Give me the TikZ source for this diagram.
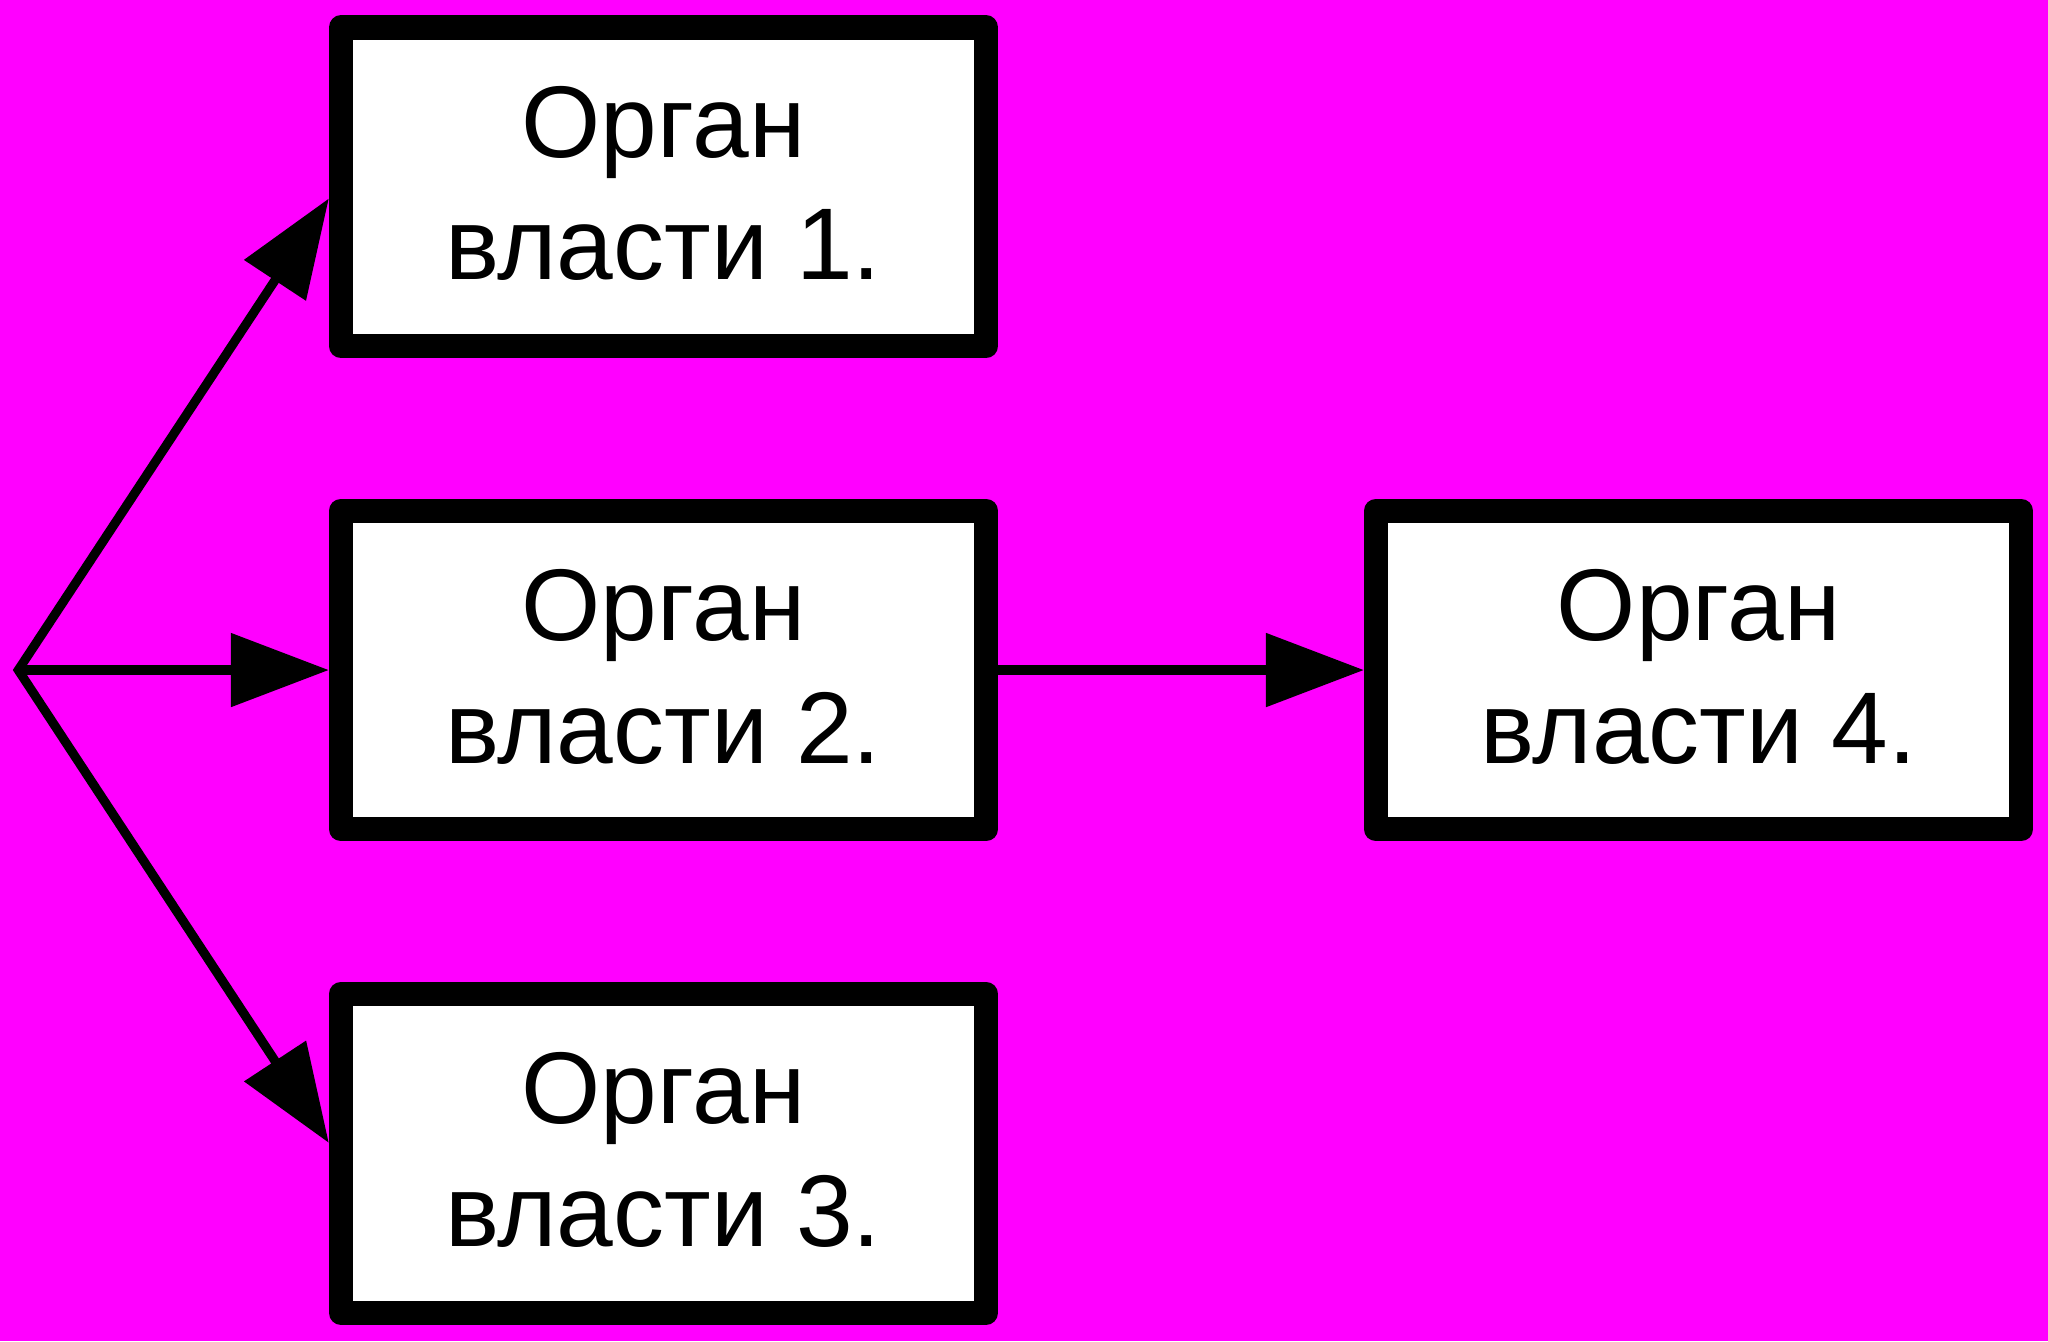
\documentclass[tikz,border=0pt]{standalone}
\usepackage{fontspec}
\setmainfont{Liberation Sans}
\usetikzlibrary{arrows.meta}
\definecolor{bgmag}{RGB}{255,0,255}
\begin{document}
\begin{tikzpicture}[x=1pt,y=-1pt,
  organbox/.style={draw=black, fill=white, line width=18.5pt, line join=round,
    minimum width=494pt, minimum height=244pt, inner sep=0pt, align=center,
    text depth=6pt, font=\fontsize{78}{94}\selectfont},
  tipshape/.style={Triangle[length=75pt,width=55pt]},
  conn/.style={draw=black, line width=7pt, line join=miter}]
\fill[bgmag] (0,0) rectangle (1568,1027);
\useasboundingbox (0,0) rectangle (1568,1027);
\node[organbox] (b1) at (508,143) {Орган\\власти 1.};
\node[organbox] (b2) at (508,513) {Орган\\власти 2.};
\node[organbox] (b3) at (508,883) {Орган\\власти 3.};
\node[organbox] (b4) at (1300.5,513) {Орган\\власти 4.};
\coordinate (o) at (14,513);
\draw[conn, {Triangle[length=75pt,width=55pt]}-{Triangle[length=75pt,width=55pt]}]
  ([yshift=-9pt]b1.west) -- (o) -- ([yshift=8pt]b3.west);
\draw[conn, -{Triangle[length=75pt,width=55pt]}] (o) -- (b2.west);
\draw[conn, -{Triangle[length=75pt,width=55pt]}] (b2.east) -- (b4.west);
\end{tikzpicture}
\end{document}
